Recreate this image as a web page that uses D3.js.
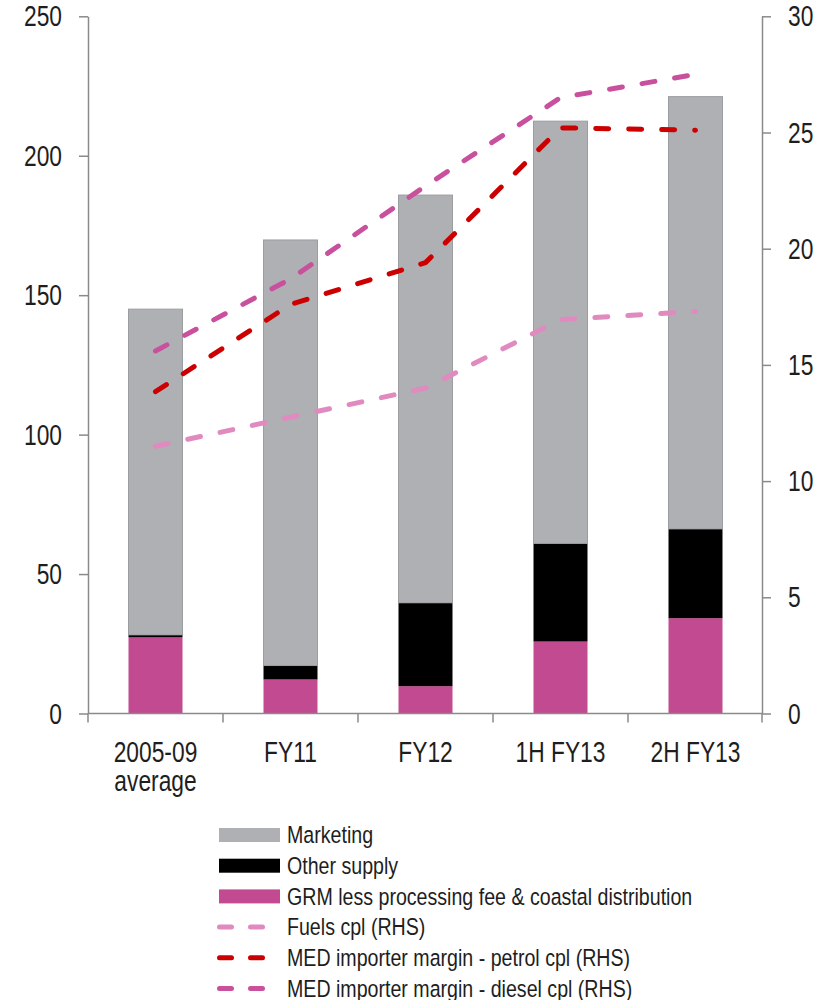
<!DOCTYPE html>
<html>
<head>
<meta charset="utf-8">
<script src="https://cdn.jsdelivr.net/npm/d3@7"></script>
<style>
  html, body { margin: 0; padding: 0; background: #fff; }
  svg text { font-family: "Liberation Sans Narrow", "Arial Narrow", "Liberation Sans", Arial, sans-serif; fill: #1e1e1e; }
</style>
</head>
<body>
<svg id="chart" width="828" height="1000"></svg>
<script>
// Categories (multi-line labels split on "|")
const categories = ["2005-09|average", "FY11", "FY12", "1H FY13", "2H FY13"];

// Stacked bar components (LHS)
const grm = [27.3, 12.2, 9.8, 25.8, 34.2];
const otherSupply = [0.9, 5.0, 29.9, 35.2, 32.0];
const marketing = [116.8, 152.6, 146.2, 151.4, 155.0];

// Margin lines (RHS, cpl)
const fuelsCpl = [11.5, 12.75, 14.0, 16.95, 17.3];
const petrolCpl = [13.85, 17.6, 19.4, 25.2, 25.1];
const dieselCpl = [15.6, 18.7, 22.7, 26.5, 27.5];

// Axis ticks
const leftTicks = [0, 50, 100, 150, 200, 250];
const rightTicks = [0, 5, 10, 15, 20, 25, 30];

const legendLabels = [
  "Marketing",
  "Other supply",
  "GRM less processing fee & coastal distribution",
  "Fuels cpl (RHS)",
  "MED importer margin - petrol cpl (RHS)",
  "MED importer margin - diesel cpl (RHS)"
];

const colors = {
  marketing: "#afb0b4",
  other: "#000000",
  grm: "#c24a90",
  fuels: "#e08ac0",
  petrol: "#cc0000",
  diesel: "#c9509c",
  axis: "#8a8a8a"
};

// Condensed lettering: regular face squeezed horizontally
const axisFont = 30, axisSqueeze = 0.76;
const legendFont = 23.5, legendSqueeze = 0.835;

const svg = d3.select("#chart");
const plot = { left: 88, right: 763, top: 16.3, bottom: 713.5 };

const x = d3.scaleBand()
  .domain(categories)
  .range([plot.left, plot.right])
  .paddingInner(0.6)
  .paddingOuter(0.3);

const yL = d3.scaleLinear().domain([0, 250]).range([plot.bottom, plot.top]);
const yR = d3.scaleLinear().domain([0, 30]).range([plot.bottom, plot.top]);

// Stack the bar series
const rows = categories.map((c, i) => ({ cat: c, grm: grm[i], other: otherSupply[i], marketing: marketing[i] }));
const keys = ["grm", "other", "marketing"];
const stacked = d3.stack().keys(keys)(rows);
const fillFor = { grm: colors.grm, other: colors.other, marketing: colors.marketing };

svg.append("g").selectAll("g")
  .data(stacked)
  .join("g")
  .attr("fill", d => fillFor[d.key])
  .attr("stroke", d => d.key === "marketing" ? "#9c9da1" : "none")
  .attr("stroke-width", 1)
  .selectAll("rect")
  .data(d => d)
  .join("rect")
  .attr("x", d => x(d.data.cat))
  .attr("y", d => yL(d[1]))
  .attr("width", x.bandwidth())
  .attr("height", d => yL(d[0]) - yL(d[1]));

// Axes
const gLeft = svg.append("g")
  .attr("transform", `translate(${plot.left},0)`)
  .call(d3.axisLeft(yL).tickValues(leftTicks).tickSize(9).tickSizeOuter(0).tickPadding(17));
const gRight = svg.append("g")
  .attr("transform", `translate(${plot.right - 1},0)`)
  .call(d3.axisRight(yR).tickValues(rightTicks).tickSize(9).tickSizeOuter(0).tickPadding(17));

[gLeft, gRight].forEach(g => {
  g.select(".domain").attr("stroke", colors.axis).attr("stroke-width", 1.5);
  g.selectAll(".tick line").attr("stroke", colors.axis).attr("stroke-width", 1.5);
  g.selectAll(".tick text")
    .style("font-size", axisFont + "px")
    .attr("fill", "#1e1e1e")
    .attr("x", function () { return +d3.select(this).attr("x") / axisSqueeze; })
    .attr("transform", `scale(${axisSqueeze},1)`);
});

// Category axis: baseline plus boundary ticks
const gx = svg.append("g");
gx.append("line")
  .attr("x1", plot.left).attr("x2", plot.right - 1)
  .attr("y1", yL(0)).attr("y2", yL(0))
  .attr("stroke", colors.axis).attr("stroke-width", 1.5);
const boundaries = d3.range(categories.length + 1).map(i => plot.left + i * x.step());
gx.selectAll("line.b")
  .data(boundaries)
  .join("line")
  .attr("class", "b")
  .attr("x1", d => Math.min(d, plot.right - 1)).attr("x2", d => Math.min(d, plot.right - 1))
  .attr("y1", yL(0)).attr("y2", yL(0) + 9)
  .attr("stroke", colors.axis).attr("stroke-width", 1.5);

const labels = gx.selectAll("text.cat")
  .data(categories)
  .join("text")
  .attr("class", "cat")
  .attr("text-anchor", "middle")
  .style("font-size", axisFont + "px")
  .attr("transform", d => `translate(${x(d) + x.bandwidth() / 2},${yL(0) + 48}) scale(${axisSqueeze},1)`);
labels.selectAll("tspan")
  .data(d => d.split("|"))
  .join("tspan")
  .attr("x", 0)
  .attr("dy", (d, i) => i === 0 ? 0 : 30)
  .text(d => d);

// Dashed RHS lines
const lineGen = d3.line()
  .x((d, i) => x(categories[i]) + x.bandwidth() / 2)
  .y(d => yR(d));

const lineSeries = [
  { values: fuelsCpl, color: colors.fuels },
  { values: petrolCpl, color: colors.petrol },
  { values: dieselCpl, color: colors.diesel }
];

svg.append("g").selectAll("path")
  .data(lineSeries)
  .join("path")
  .attr("d", d => lineGen(d.values))
  .attr("fill", "none")
  .attr("stroke", d => d.color)
  .attr("stroke-width", 5)
  .attr("stroke-linecap", "round")
  .attr("stroke-linejoin", "round")
  .attr("stroke-dasharray", "13,20");

// Legend
const legend = svg.append("g");
const legendItems = [
  { type: "rect", color: colors.marketing },
  { type: "rect", color: colors.other },
  { type: "rect", color: colors.grm },
  { type: "line", color: colors.fuels },
  { type: "line", color: colors.petrol },
  { type: "line", color: colors.diesel }
];
const rowY = i => 835 + i * 30.7;

legendItems.forEach((item, i) => {
  const cy = rowY(i);
  if (item.type === "rect") {
    legend.append("rect")
      .attr("x", 219).attr("y", cy - 7)
      .attr("width", 61).attr("height", 14)
      .attr("fill", item.color);
  } else {
    legend.append("line")
      .attr("x1", 219.5).attr("x2", 266)
      .attr("y1", cy).attr("y2", cy)
      .attr("stroke", item.color)
      .attr("stroke-width", 5)
      .attr("stroke-linecap", "round")
      .attr("stroke-dasharray", "12,19");
  }
  legend.append("text")
    .attr("transform", `translate(287,${cy}) scale(${legendSqueeze},1)`)
    .attr("dominant-baseline", "central")
    .style("font-size", legendFont + "px")
    .text(legendLabels[i]);
});
</script>
</body>
</html>
